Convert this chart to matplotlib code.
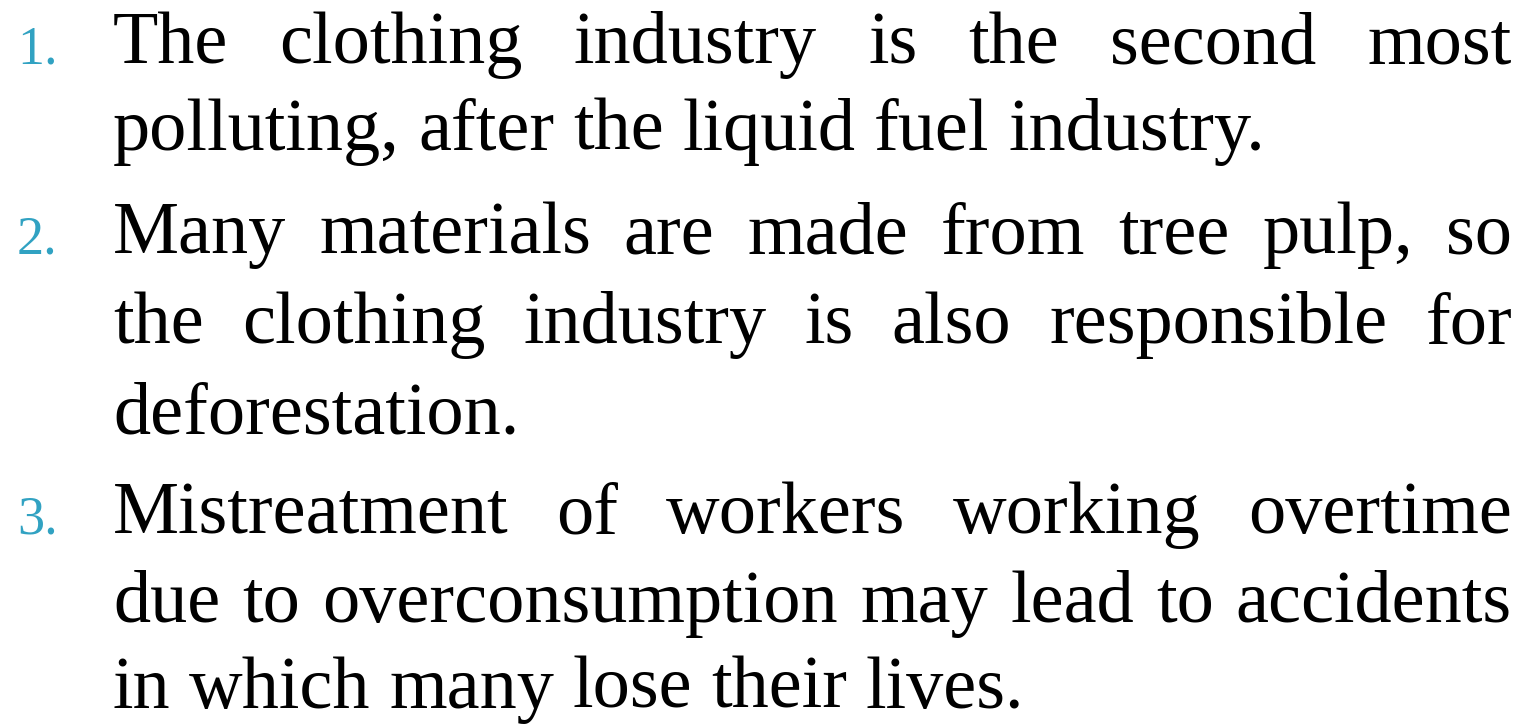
import matplotlib
matplotlib.use('Agg')
import matplotlib.pyplot as plt

# numbered list, each item broken into the lines seen in the picture
numbers = ['1.', '2.', '3.']
items = [
    ['The clothing industry is the second most',
     'polluting, after the liquid fuel industry.'],
    ['Many materials are made from tree pulp, so',
     'the clothing industry is also responsible for',
     'deforestation.'],
    ['Mistreatment of workers working overtime',
     'due to overconsumption may lead to accidents',
     'in which many lose their lives.'],
]
baselines = [[63, 150], [253, 343, 433], [533, 622, 708]]  # px from top

W, H = 1523, 724
fig = plt.figure(figsize=(W / 100, H / 100), dpi=100)
fig.patch.set_facecolor('white')
renderer = fig.canvas.get_renderer()

font = dict(family=['Liberation Serif', 'DejaVu Serif'], size=53.5, color='black')
numfont = dict(family=['Liberation Serif', 'DejaVu Serif'], size=39, color='#31a2c2')
left, right = 113, 1512
numx = 17


def width_of(s):
    t = fig.text(0, 0, s, **font)
    w = t.get_window_extent(renderer).width
    t.remove()
    return w


space_w = width_of('a b') - width_of('ab')

for num, lines, ys in zip(numbers, items, baselines):
    fig.text(numx / W, 1 - ys[0] / H, num, ha='left', va='baseline', **numfont)
    for i, (line, y) in enumerate(zip(lines, ys)):
        words = line.split()
        widths = [width_of(w) for w in words]
        last = i == len(lines) - 1
        if last or len(words) == 1:
            gap = space_w
        else:
            gap = (right - left - sum(widths)) / (len(words) - 1)
        x = left
        for w, wd in zip(words, widths):
            fig.text(x / W, 1 - y / H, w, ha='left', va='baseline', **font)
            x += wd + gap

fig.savefig('out.png', dpi=100, facecolor='white')
